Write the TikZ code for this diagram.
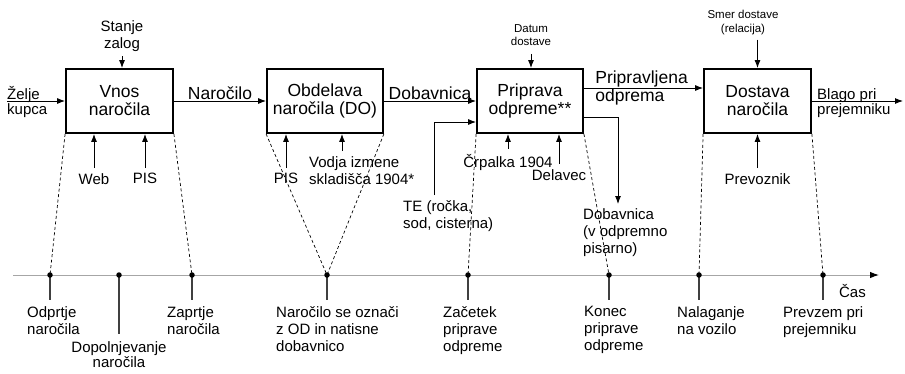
\documentclass[tikz,border=0pt]{standalone}
\usepackage{fontspec}
\setmainfont{Liberation Sans}
\usetikzlibrary{positioning, arrows.meta, calc}
\newcommand{\velika}{\fontsize{17.5}{18}\selectfont}
\newcommand{\mala}{\fontsize{15}{17}\selectfont}
\newcommand{\drobna}{\fontsize{11.5}{13.5}\selectfont}
\tikzset{
  blok/.style={rectangle, draw=black, line width=1.8pt, minimum width=107pt, minimum height=64pt, align=center, font=\velika, inner sep=0pt},
  tok/.style={-{Latex[length=8pt,width=6pt]}, line width=0.9pt},
  vhod/.style={tok, shorten <=5pt},
  oznaka/.style={inner sep=0pt, align=left, font=\mala},
  tocka/.style={circle, fill=black, inner sep=0pt, minimum size=5.5pt},
  crtkana/.style={dash pattern=on 3pt off 2.5pt, line width=0.7pt},
  os/.style={draw=gray!70, line width=1pt, -{Latex[length=9pt,width=6.5pt,color=black]}},
  crtica/.style={line width=1.2pt, draw=black!75}
}
\begin{document}
\begin{tikzpicture}[x=1pt, y=-1pt]
    \useasboundingbox (0,0) rectangle (905,373);

    % --- Procesi ---
    \node[blok] (vnos) at (119.5,101) {Vnos\\naročila};
    \node[blok, minimum width=116pt] (obdelava) at (325,101) {Obdelava\\naročila (DO)};
    \node[blok, minimum width=106pt] (priprava) at (530,101) {Priprava\\odpreme**};
    \node[blok] (dostava) at (757.5,101) {Dostava\\naročila};

    % --- Glavni tok ---
    \node[oznaka, anchor=north west, font=\fontsize{15}{15.5}\selectfont] (zelje) at (7,86) {Želje\\kupca};
    \draw[tok] (vnos.west -| zelje.west) -- (vnos.west);
    \draw[tok] (vnos.east) -- node[above, inner sep=1pt, font=\velika] {Naročilo} (obdelava.west);
    \draw[tok] (obdelava.east) -- node[above, inner sep=1pt, font=\velika] {Dobavnica} (priprava.west);
    \draw[tok] ([yshift=13pt]priprava.east) -- node[pos=0, anchor=west, xshift=11pt, align=left, font=\velika, inner sep=0pt] {Pripravljena\\odprema} ([yshift=13pt]dostava.west);
    \coordinate (izhod) at (903,101);
    \draw[tok] (dostava.east) -- (izhod);
    \node[oznaka, anchor=north west, font=\fontsize{15}{15.5}\selectfont] (blago) at (817,88) {Blago pri\\prejemniku};

    % --- Vhodi od zgoraj ---
    \node[oznaka, anchor=north, align=center] (stanje) at (122,20) {Stanje\\zalog};
    \draw[vhod] (stanje.south) -- (vnos.north -| stanje.south);
    \node[oznaka, anchor=north, align=center, font=\drobna] (datum) at (531,24) {Datum\\dostave};
    \draw[vhod, shorten <=8pt] (datum.south) -- (priprava.north -| datum.south);
    \node[oznaka, anchor=north, align=center, font=\drobna] (smer) at (743,10) {Smer dostave\\(relacija)};
    \draw[vhod] (dostava.north |- smer.south) -- (dostava.north);

    % --- Vhodi od spodaj ---
    \node[oznaka, anchor=north] (web) at (94,173) {Web};
    \draw[vhod] (web.north) -- (web.north |- vnos.south);
    \node[oznaka, anchor=north] (pisvnos) at (145,173) {PIS};
    \draw[vhod] (pisvnos.north) -- (pisvnos.north |- vnos.south);
    \node[oznaka, anchor=north] (pisobd) at (286,173) {PIS};
    \draw[vhod] (pisobd.north) -- (pisobd.north |- obdelava.south);
    \node[oznaka, anchor=north west] (vodja) at (309,156) {Vodja izmene\\skladišča 1904*};
    \coordinate (vodjavrh) at ([xshift=33pt]vodja.north west);
    \draw[vhod] (vodjavrh) -- (vodjavrh |- obdelava.south);
    \node[oznaka, anchor=base] (crpalka) at (508,167) {Črpalka 1904};
    \draw[vhod] (crpalka.north) -- (crpalka.north |- priprava.south);
    \node[oznaka, anchor=base] (delavec) at (559,180) {Delavec};
    \draw[vhod] (delavec.north) -- (delavec.north |- priprava.south);
    \node[oznaka, anchor=north] (prevoznik) at (757.5,173) {Prevoznik};
    \draw[vhod] (prevoznik.north) -- (prevoznik.north |- dostava.south);

    % --- TE in dobavnica ob pripravi ---
    \node[oznaka, anchor=north west] (te) at (403,200) {TE (ročka,\\sod, cisterna)};
    \coordinate (tevrh) at ([xshift=31pt]te.north west);
    \draw[vhod] (tevrh) |- ([yshift=-21pt]priprava.west);
    \node[oznaka, anchor=north west] (dobizh) at (583,208) {Dobavnica\\(v odpremno\\pisarno)};
    \coordinate (dobvrh) at ([xshift=35pt]dobizh.north west);
    \draw[tok, shorten >=4pt] ([yshift=-16pt]priprava.east) -| (dobvrh);

    % --- Casovna os ---
    \coordinate (oszac) at (13,275);
    \coordinate (oskon) at (879,275);
    \draw[os] (oszac) -- (oskon);
    \node[oznaka, anchor=base east] (cas) at (866,297) {Čas};

    \foreach \ime/\x in {t1/50, t2/119, t3/192, t4/327, t5/468, t6/609, t7/699, t8/823}
        \coordinate (\ime) at (\x,275);

    % crtkane povezave od blokov do osi
    \draw[crtkana] (vnos.south west) -- (t1);
    \draw[crtkana] (vnos.south east) -- (t3);
    \draw[crtkana] (obdelava.south west) -- (t4);
    \draw[crtkana] (obdelava.south east) -- (t4);
    \draw[crtkana] (priprava.south west) -- (t5);
    \draw[crtkana] (priprava.south east) -- (t6);
    \draw[crtkana] (dostava.south west) -- (t7);
    \draw[crtkana] (dostava.south east) -- (t8);

    \foreach \ime in {t1,t3,t4,t5,t6,t7,t8}
        \draw[crtica] (\ime) -- ++(0,25);
    \draw[crtica] (t2) -- ++(0,59);
    \foreach \ime in {t1,t2,t3,t4,t5,t6,t7,t8}
        \node[tocka] at (\ime) {};

    % --- Dogodki ---
    \node[oznaka, anchor=north west] (odprtje) at (27,306) {Odprtje\\naročila};
    \node[oznaka, anchor=north, align=center, font=\fontsize{15}{15.5}\selectfont] (dopoln) at (119,341) {Dopolnjevanje\\naročila};
    \node[oznaka, anchor=north west] (zaprtje) at (167,306) {Zaprtje\\naročila};
    \node[oznaka, anchor=north west] (oznaci) at (276,306) {Naročilo se označi\\z OD in natisne\\dobavnico};
    \node[oznaka, anchor=north west] (zacetek) at (443,306) {Začetek\\priprave\\odpreme};
    \node[oznaka, anchor=north west] (konec) at (584,306) {Konec\\priprave\\odpreme};
    \node[oznaka, anchor=north west] (nalaganje) at (677,306) {Nalaganje\\na vozilo};
    \node[oznaka, anchor=north west] (prevzem) at (783,306) {Prevzem pri\\prejemniku};

\end{tikzpicture}
\end{document}
